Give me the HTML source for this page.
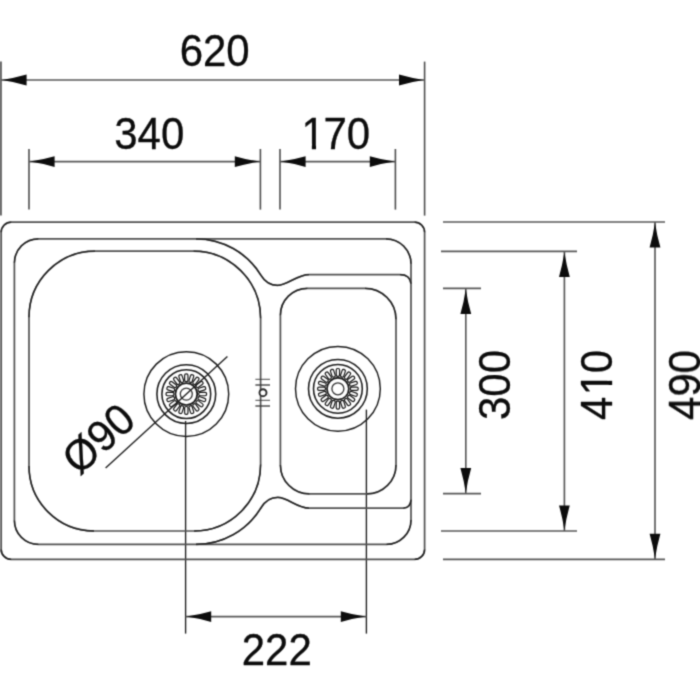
<!DOCTYPE html>
<html lang="en">
<head>
<meta charset="utf-8">
<title>Sink dimension drawing</title>
<style>
html,body{margin:0;padding:0;background:#fff;}
body{width:700px;height:700px;overflow:hidden;}
svg{display:block;will-change:transform;}
.dim{stroke:#585858;stroke-width:1.65;fill:none;}
.ext{stroke:#4e4e4e;stroke-width:1.6;fill:none;}
.body{stroke:#525252;stroke-width:1.7;fill:none;}
.arc{stroke:#202020;stroke-width:1.3;fill:none;stroke-linecap:butt;}
.drain{stroke:#1e1e1e;stroke-width:1.35;fill:none;}
.slot{stroke:#161616;stroke-width:1.2;fill:none;}
.ah{fill:#0c0c0c;stroke:none;}
text{font-family:"Liberation Sans",sans-serif;font-size:43.5px;fill:#0c0c0c;stroke:#0c0c0c;stroke-width:0.32px;stroke-linejoin:round;}
</style>
</head>
<body>
<svg width="700" height="700" viewBox="0 0 700 700">
<defs>
<filter id="soften" x="0" y="0" width="700" height="700" filterUnits="userSpaceOnUse" color-interpolation-filters="sRGB">
<feConvolveMatrix order="3" kernelMatrix="0.0311 0.1141 0.0311 0.1141 0.4191 0.1141 0.0311 0.1141 0.0311" divisor="1" bias="0" edgeMode="duplicate" preserveAlpha="true"/>
</filter>
</defs>
<rect width="700" height="700" fill="#ffffff"/>
<g filter="url(#soften)">
<rect x="0" y="0" width="700" height="700" fill="#ffffff"/>

<g id="dimensions-top">
<line class="ext" x1="1" y1="61.6" x2="1" y2="215.6"/>
<line class="ext" x1="424.6" y1="61.6" x2="424.6" y2="215.6"/>
<line class="dim" x1="1" y1="80" x2="424.6" y2="80"/>
<path class="ah" d="M1.6 80 Q14.1 78.2 26.6 74.6 L26.6 85.4 Q14.1 81.8 1.6 80 Z"/>
<path class="ah" d="M424 80 Q411.5 81.8 399.0 85.4 L399.0 74.6 Q411.5 78.2 424 80 Z"/>
<line class="ext" x1="29" y1="149" x2="29" y2="209.6"/>
<line class="ext" x1="260.4" y1="149" x2="260.4" y2="209.6"/>
<line class="dim" x1="29" y1="161.6" x2="260.4" y2="161.6"/>
<path class="ah" d="M29.6 161.6 Q42.1 159.8 54.6 156.2 L54.6 167.0 Q42.1 163.4 29.6 161.6 Z"/>
<path class="ah" d="M259.8 161.6 Q247.3 163.4 234.8 167.0 L234.8 156.2 Q247.3 159.8 259.8 161.6 Z"/>
<line class="ext" x1="280" y1="149" x2="280" y2="209.6"/>
<line class="ext" x1="395.4" y1="149" x2="395.4" y2="209.6"/>
<line class="dim" x1="280" y1="161.6" x2="395.4" y2="161.6"/>
<path class="ah" d="M280.6 161.6 Q293.1 159.8 305.6 156.2 L305.6 167.0 Q293.1 163.4 280.6 161.6 Z"/>
<path class="ah" d="M394.8 161.6 Q382.3 163.4 369.8 167.0 L369.8 156.2 Q382.3 159.8 394.8 161.6 Z"/>
<g transform="translate(214.7 66.3) rotate(0) scale(0.965 1)">
<text text-anchor="middle">620</text>
</g>
<g transform="translate(149.3 148.5) rotate(0) scale(0.965 1)">
<text text-anchor="middle">340</text>
</g>
<g transform="translate(335.2 148.5) rotate(0) scale(0.965 1)">
<text x="-34.89 -12.10 12.10">170</text>
<rect x="-32.76" y="-4.85" width="8.56" height="6.75" fill="#fff"/>
<rect x="-19.86" y="-4.85" width="8.58" height="6.75" fill="#fff"/>
</g>
</g>
<g id="dimensions-right">
<line class="dim" x1="443" y1="222" x2="665" y2="222"/>
<line class="dim" x1="443" y1="559.4" x2="665" y2="559.4"/>
<line class="dim" x1="441" y1="251.3" x2="577" y2="251.3"/>
<line class="dim" x1="441" y1="531" x2="577" y2="531"/>
<line class="dim" x1="443" y1="288.4" x2="481" y2="288.4"/>
<line class="dim" x1="443" y1="493.6" x2="481" y2="493.6"/>
<line class="dim" x1="465.8" y1="288.4" x2="465.8" y2="493.6"/>
<path class="ah" d="M465.8 289 Q467.6 301.5 471.2 314.0 L460.4 314.0 Q464.0 301.5 465.8 289 Z"/>
<path class="ah" d="M465.8 493 Q464.0 480.5 460.4 468.0 L471.2 468.0 Q467.6 480.5 465.8 493 Z"/>
<line class="dim" x1="564.4" y1="251.3" x2="564.4" y2="531"/>
<path class="ah" d="M564.4 251.9 Q566.2 264.4 569.8 276.9 L559.0 276.9 Q562.6 264.4 564.4 251.9 Z"/>
<path class="ah" d="M564.4 530.4 Q562.6 517.9 559.0 505.4 L569.8 505.4 Q566.2 517.9 564.4 530.4 Z"/>
<line class="dim" x1="655" y1="222" x2="655" y2="559.4"/>
<path class="ah" d="M655 222.6 Q656.8 235.1 660.4 247.6 L649.6 247.6 Q653.2 235.1 655 222.6 Z"/>
<path class="ah" d="M655 558.8 Q653.2 546.3 649.6 533.8 L660.4 533.8 Q656.8 546.3 655 558.8 Z"/>
<g transform="translate(510.4 385) rotate(-90) scale(0.965 1)">
<text text-anchor="middle">300</text>
</g>
<g transform="translate(612.4 385) rotate(-90) scale(0.965 1)">
<text x="-36.29 -10.70 12.10">410</text>
<rect x="-8.57" y="-4.85" width="8.56" height="6.75" fill="#fff"/>
<rect x="4.34" y="-4.85" width="8.58" height="6.75" fill="#fff"/>
</g>
<g transform="translate(700 385) rotate(-90) scale(0.965 1)">
<text text-anchor="middle">490</text>
</g>
</g>
<g id="dimensions-bottom">
<line class="drain" x1="185.6" y1="421" x2="185.6" y2="633.6"/>
<line class="drain" x1="366.4" y1="409.6" x2="366.4" y2="633.6"/>
<line class="dim" x1="185.6" y1="616.6" x2="366.4" y2="616.6"/>
<path class="ah" d="M186.2 616.6 Q198.7 614.8 211.2 611.2 L211.2 622.0 Q198.7 618.4 186.2 616.6 Z"/>
<path class="ah" d="M365.8 616.6 Q353.3 618.4 340.8 622.0 L340.8 611.2 Q353.3 614.8 365.8 616.6 Z"/>
<g transform="translate(276.8 664.7) rotate(0) scale(0.965 1)">
<text text-anchor="middle">222</text>
</g>
</g>
<g id="sink">
<path class="body" d="M11.2 222.2 H414.6 A10 10 0 0 1 424.6 232.2 V549.4 A10 10 0 0 1 414.6 559.4 H11.2 A10 10 0 0 1 1.2 549.4 V232.2 A10 10 0 0 1 11.2 222.2 Z"/>
<path class="arc" d="M414.6 222.2 A10 10 0 0 1 424.6 232.2 M424.6 549.4 A10 10 0 0 1 414.6 559.4 M11.2 559.4 A10 10 0 0 1 1.2 549.4 M1.2 232.2 A10 10 0 0 1 11.2 222.2"/>
<path class="body" d="M38.4 238.8 H386 A25 25 0 0 1 411 263.8 V519.9 A24.5 24.5 0 0 1 386.5 544.4 H38.4 A24 24 0 0 1 14.4 520.4 V262.8 A24 24 0 0 1 38.4 238.8 Z"/>
<path class="arc" d="M386 238.8 A25 25 0 0 1 411 263.8 M411 519.9 A24.5 24.5 0 0 1 386.5 544.4 M38.4 544.4 A24 24 0 0 1 14.4 520.4 M14.4 262.8 A24 24 0 0 1 38.4 238.8"/>
<path class="body" d="M95 251.2 H193.6 A67 67 0 0 1 260.6 318.2 V464.5 A66.5 66.5 0 0 1 194.1 531 H94 A65 65 0 0 1 29 466 V317.2 A66 66 0 0 1 95 251.2 Z"/>
<path class="arc" d="M193.6 251.2 A67 67 0 0 1 260.6 318.2 M260.6 464.5 A66.5 66.5 0 0 1 194.1 531 M94 531 A65 65 0 0 1 29 466 M29 317.2 A66 66 0 0 1 95 251.2"/>
<path class="body" d="M307.4 288.3 H365 A31 31 0 0 1 396 319.3 V464.9 A29 29 0 0 1 367 493.9 H309.4 A29 29 0 0 1 280.4 464.9 V315.3 A27 27 0 0 1 307.4 288.3 Z"/>
<path class="arc" d="M365 288.3 A31 31 0 0 1 396 319.3 M396 464.9 A29 29 0 0 1 367 493.9 M309.4 493.9 A29 29 0 0 1 280.4 464.9 M280.4 315.3 A27 27 0 0 1 307.4 288.3"/>
<path class="body" d="M196 238.8 A76 76 0 0 1 261 275.4 C264.2 280.7 270 285.4 277.5 285.4 C287.5 285.4 297 274.6 309 274.6 H400 Q410 274.6 411 283.6"/>
<path class="arc" d="M196 238.8 A76 76 0 0 1 261 275.4 C264.2 280.7 270 285.4 277.5 285.4 C287.5 285.4 297 274.6 309 274.6  M400 274.6 Q410 274.6 411 283.6"/>
<path class="body" d="M196 544.4 A76 76 0 0 0 261 507.8 C264.2 502.5 270.2 497.4 277.7 497.4 C287.7 497.4 297 508.1 309 508.1 H403.4 Q410.3 508.1 411 499.8"/>
<path class="arc" d="M196 544.4 A76 76 0 0 0 261 507.8 C264.2 502.5 270.2 497.4 277.7 497.4 C287.7 497.4 297 508.1 309 508.1  M403.4 508.1 Q410.3 508.1 411 499.8"/>
<line x1="255.4" y1="379.3" x2="270" y2="379.3" stroke="#333" stroke-width="0.9"/>
<line x1="255.4" y1="385" x2="270" y2="385" stroke="#333" stroke-width="1.3"/>
<line x1="255.4" y1="400.3" x2="270" y2="400.3" stroke="#333" stroke-width="0.9"/>
<line x1="255.4" y1="406" x2="270" y2="406" stroke="#333" stroke-width="1.3"/>
<circle cx="263" cy="392.7" r="3.5" fill="#fff" stroke="#2a2a2a" stroke-width="1.9"/>
</g>
<g id="drain-left">
<circle cx="186.3" cy="394.1" r="42.4" fill="none" stroke="#1c1c1c" stroke-width="1.45"/>
<circle cx="186.3" cy="394.1" r="29.4" fill="none" stroke="#1c1c1c" stroke-width="1.55"/>
<circle cx="186.3" cy="394.1" r="24.4" fill="none" stroke="#1c1c1c" stroke-width="1.55"/>
<rect class="slot" x="184.65" y="373.80" width="3.3" height="7.9" rx="1.4" transform="rotate(0.0 186.3 394.1)"/>
<rect class="slot" x="184.65" y="373.80" width="3.3" height="7.9" rx="1.4" transform="rotate(18.0 186.3 394.1)"/>
<rect class="slot" x="184.65" y="373.80" width="3.3" height="7.9" rx="1.4" transform="rotate(36.0 186.3 394.1)"/>
<rect class="slot" x="184.65" y="373.80" width="3.3" height="7.9" rx="1.4" transform="rotate(54.0 186.3 394.1)"/>
<rect class="slot" x="184.65" y="373.80" width="3.3" height="7.9" rx="1.4" transform="rotate(72.0 186.3 394.1)"/>
<rect class="slot" x="184.65" y="373.80" width="3.3" height="7.9" rx="1.4" transform="rotate(90.0 186.3 394.1)"/>
<rect class="slot" x="184.65" y="373.80" width="3.3" height="7.9" rx="1.4" transform="rotate(108.0 186.3 394.1)"/>
<rect class="slot" x="184.65" y="373.80" width="3.3" height="7.9" rx="1.4" transform="rotate(126.0 186.3 394.1)"/>
<rect class="slot" x="184.65" y="373.80" width="3.3" height="7.9" rx="1.4" transform="rotate(144.0 186.3 394.1)"/>
<rect class="slot" x="184.65" y="373.80" width="3.3" height="7.9" rx="1.4" transform="rotate(162.0 186.3 394.1)"/>
<rect class="slot" x="184.65" y="373.80" width="3.3" height="7.9" rx="1.4" transform="rotate(180.0 186.3 394.1)"/>
<rect class="slot" x="184.65" y="373.80" width="3.3" height="7.9" rx="1.4" transform="rotate(198.0 186.3 394.1)"/>
<rect class="slot" x="184.65" y="373.80" width="3.3" height="7.9" rx="1.4" transform="rotate(216.0 186.3 394.1)"/>
<rect class="slot" x="184.65" y="373.80" width="3.3" height="7.9" rx="1.4" transform="rotate(234.0 186.3 394.1)"/>
<rect class="slot" x="184.65" y="373.80" width="3.3" height="7.9" rx="1.4" transform="rotate(252.0 186.3 394.1)"/>
<rect class="slot" x="184.65" y="373.80" width="3.3" height="7.9" rx="1.4" transform="rotate(270.0 186.3 394.1)"/>
<rect class="slot" x="184.65" y="373.80" width="3.3" height="7.9" rx="1.4" transform="rotate(288.0 186.3 394.1)"/>
<rect class="slot" x="184.65" y="373.80" width="3.3" height="7.9" rx="1.4" transform="rotate(306.0 186.3 394.1)"/>
<rect class="slot" x="184.65" y="373.80" width="3.3" height="7.9" rx="1.4" transform="rotate(324.0 186.3 394.1)"/>
<rect class="slot" x="184.65" y="373.80" width="3.3" height="7.9" rx="1.4" transform="rotate(342.0 186.3 394.1)"/>
<circle cx="186.3" cy="394.1" r="10.9" fill="#fff" stroke="#1c1c1c" stroke-width="1.7"/>
<circle cx="186.3" cy="394.1" r="6" fill="none" stroke="#333" stroke-width="1.3"/>
</g>
<g id="drain-right">
<circle cx="337.9" cy="388.8" r="42.4" fill="none" stroke="#1c1c1c" stroke-width="1.45"/>
<circle cx="337.9" cy="388.8" r="29.4" fill="none" stroke="#1c1c1c" stroke-width="1.55"/>
<circle cx="337.9" cy="388.8" r="24.4" fill="none" stroke="#1c1c1c" stroke-width="1.55"/>
<rect class="slot" x="336.25" y="368.50" width="3.3" height="7.9" rx="1.4" transform="rotate(0.0 337.9 388.8)"/>
<rect class="slot" x="336.25" y="368.50" width="3.3" height="7.9" rx="1.4" transform="rotate(18.0 337.9 388.8)"/>
<rect class="slot" x="336.25" y="368.50" width="3.3" height="7.9" rx="1.4" transform="rotate(36.0 337.9 388.8)"/>
<rect class="slot" x="336.25" y="368.50" width="3.3" height="7.9" rx="1.4" transform="rotate(54.0 337.9 388.8)"/>
<rect class="slot" x="336.25" y="368.50" width="3.3" height="7.9" rx="1.4" transform="rotate(72.0 337.9 388.8)"/>
<rect class="slot" x="336.25" y="368.50" width="3.3" height="7.9" rx="1.4" transform="rotate(90.0 337.9 388.8)"/>
<rect class="slot" x="336.25" y="368.50" width="3.3" height="7.9" rx="1.4" transform="rotate(108.0 337.9 388.8)"/>
<rect class="slot" x="336.25" y="368.50" width="3.3" height="7.9" rx="1.4" transform="rotate(126.0 337.9 388.8)"/>
<rect class="slot" x="336.25" y="368.50" width="3.3" height="7.9" rx="1.4" transform="rotate(144.0 337.9 388.8)"/>
<rect class="slot" x="336.25" y="368.50" width="3.3" height="7.9" rx="1.4" transform="rotate(162.0 337.9 388.8)"/>
<rect class="slot" x="336.25" y="368.50" width="3.3" height="7.9" rx="1.4" transform="rotate(180.0 337.9 388.8)"/>
<rect class="slot" x="336.25" y="368.50" width="3.3" height="7.9" rx="1.4" transform="rotate(198.0 337.9 388.8)"/>
<rect class="slot" x="336.25" y="368.50" width="3.3" height="7.9" rx="1.4" transform="rotate(216.0 337.9 388.8)"/>
<rect class="slot" x="336.25" y="368.50" width="3.3" height="7.9" rx="1.4" transform="rotate(234.0 337.9 388.8)"/>
<rect class="slot" x="336.25" y="368.50" width="3.3" height="7.9" rx="1.4" transform="rotate(252.0 337.9 388.8)"/>
<rect class="slot" x="336.25" y="368.50" width="3.3" height="7.9" rx="1.4" transform="rotate(270.0 337.9 388.8)"/>
<rect class="slot" x="336.25" y="368.50" width="3.3" height="7.9" rx="1.4" transform="rotate(288.0 337.9 388.8)"/>
<rect class="slot" x="336.25" y="368.50" width="3.3" height="7.9" rx="1.4" transform="rotate(306.0 337.9 388.8)"/>
<rect class="slot" x="336.25" y="368.50" width="3.3" height="7.9" rx="1.4" transform="rotate(324.0 337.9 388.8)"/>
<rect class="slot" x="336.25" y="368.50" width="3.3" height="7.9" rx="1.4" transform="rotate(342.0 337.9 388.8)"/>
<circle cx="337.9" cy="388.8" r="10.9" fill="#fff" stroke="#1c1c1c" stroke-width="1.7"/>
<circle cx="337.9" cy="388.8" r="6" fill="none" stroke="#333" stroke-width="1.3"/>
</g>
<line class="drain" x1="227.4" y1="356.6" x2="105.6" y2="468"/>
<g transform="translate(78.9 476.3) rotate(-42) scale(0.965 1)">
<text text-anchor="start">Ø90</text>
</g>
</g>
</svg>
</body>
</html>
